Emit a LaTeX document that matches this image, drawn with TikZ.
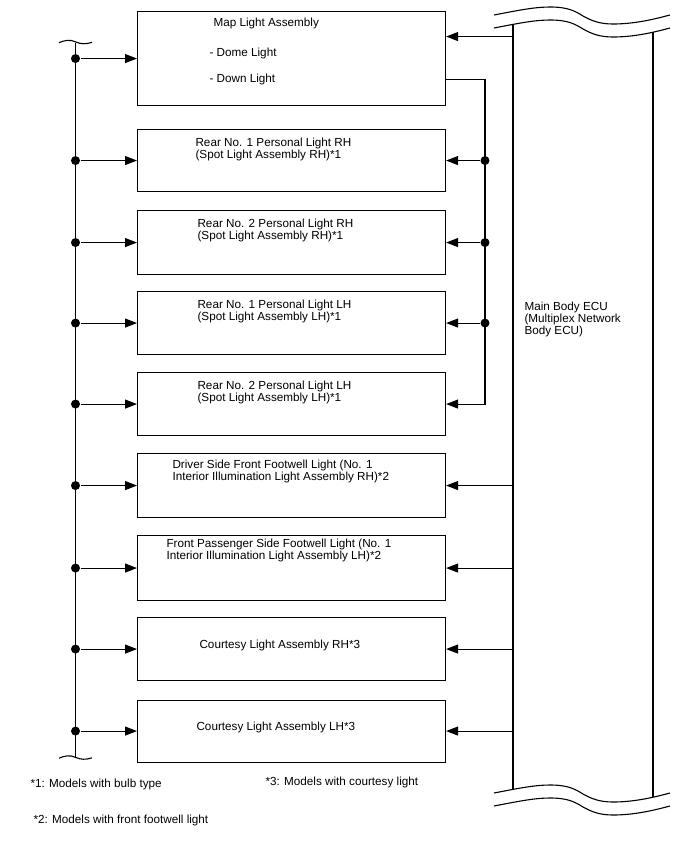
\documentclass[tikz,border=0pt]{standalone}
\usepackage{fontspec}
\setmainfont{Liberation Sans}
\usetikzlibrary{arrows.meta}
\newcommand\ecuwave[1]{\draw[shift={(0,#1)}] (494,15) .. controls (520,10) and (535,7) .. (550,7) .. controls (568,7) and (575,11) .. (583,16) .. controls (592,21) and (600,24) .. (613,24) .. controls (635,24) and (655,19) .. (670,15);}
\newcommand\bustilde[1]{\draw[shift={(0,#1)}] (59,0.7) .. controls (64,-1.5) and (70,-3) .. (76,0) .. controls (80,2) and (86,2.5) .. (92,0.3);}
\begin{document}
\begin{tikzpicture}[x=1pt,y=-1pt,line width=1.1pt,
  box/.style={draw, rectangle, minimum width=308pt, anchor=north west, inner sep=0pt},
  lbl/.style={anchor=base west, inner sep=0pt, font=\fontsize{11.7}{13}\selectfont},
  arr/.style={-{Triangle[length=12pt,width=9pt]}},
  dot/.style={circle, fill, inner sep=0pt, minimum size=9pt}]
\useasboundingbox (0,0) rectangle (688,852);
% boxes
\node[box, minimum height=94pt] (b1) at (137,11) {};
\node[box, minimum height=62pt] (b2) at (137,129) {};
\node[box, minimum height=64pt] (b3) at (137,210) {};
\node[box, minimum height=63pt] (b4) at (137,291) {};
\node[box, minimum height=63pt] (b5) at (137,372) {};
\node[box, minimum height=64pt] (b6) at (137,453) {};
\node[box, minimum height=65pt] (b7) at (137,535) {};
\node[box, minimum height=63pt] (b8) at (137,617) {};
\node[box, minimum height=62pt] (b9) at (137,699.5) {};
% texts
\node[lbl] (t1a) at (213,26.7) {Map Light Assembly};
\node[lbl] (t1b) at (209,56.7) {- Dome Light};
\node[lbl] (t1c) at (209,82.7) {- Down Light};
\node[lbl] (t2a) at (195,146) {Rear No. 1 Personal Light RH};
\node[lbl] (t2b) at (195,158) {(Spot Light Assembly RH)*1};
\node[lbl] (t3a) at (197,227) {Rear No. 2 Personal Light RH};
\node[lbl] (t3b) at (197,239) {(Spot Light Assembly RH)*1};
\node[lbl] (t4a) at (197,308) {Rear No. 1 Personal Light LH};
\node[lbl] (t4b) at (197,320) {(Spot Light Assembly LH)*1};
\node[lbl] (t5a) at (197,389) {Rear No. 2 Personal Light LH};
\node[lbl] (t5b) at (197,401) {(Spot Light Assembly LH)*1};
\node[lbl] (t6a) at (172,468.5) {Driver Side Front Footwell Light (No. 1};
\node[lbl] (t6b) at (172,480.5) {Interior Illumination Light Assembly RH)*2};
\node[lbl] (t7a) at (166,547) {Front Passenger Side Footwell Light (No. 1};
\node[lbl] (t7b) at (166,559) {Interior Illumination Light Assembly LH)*2};
\node[lbl] (t8) at (199,648) {Courtesy Light Assembly RH*3};
\node[lbl] (t9) at (196,730) {Courtesy Light Assembly LH*3};
\node[lbl] (e1) at (524,310) {Main Body ECU};
\node[lbl] (e2) at (524,322) {(Multiplex Network};
\node[lbl] (e3) at (524,334) {Body ECU)};
\node[lbl] (f1) at (30,787) {*1: Models with bulb type};
\node[lbl] (f2) at (33,823) {*2: Models with front footwell light};
\node[lbl] (f3) at (265,785) {*3: Models with courtesy light};
% ECU outline
\node[inner sep=0pt, minimum width=140pt, minimum height=764pt, anchor=north west] (ecu) at (513,25) {};
\ecuwave{0}
\ecuwave{13}
\ecuwave{778}
\ecuwave{791}
\draw (513,24.4) -- (513,789.1);
\draw (653,32.2) -- (653,797.2);
% left bus
\coordinate (bus) at (75.5,0);
\coordinate (busT) at (75.5,42.5);
\coordinate (busB) at (75.5,757);
\bustilde{42}
\bustilde{757.5}
\draw (busT) -- (busB);
\foreach \i in {1,...,9}{
  \node[dot] (L\i) at (bus |- b\i.west) {};
  \draw[arr] (L\i) -- (b\i);
}
% right bus
\coordinate (rbus) at (485,0);
\coordinate (b1in) at ([yshift=22pt]b1.east);
\coordinate (b1out) at ([yshift=-21pt]b1.east);
\draw[arr] (ecu.west |- b1in) -- (b1in);
\draw[arr] (b1out) -| (rbus |- b5.east) -- (b5.east);
\foreach \i in {2,3,4}{
  \node[dot] (R\i) at (rbus |- b\i.east) {};
  \draw[arr] (R\i) -- (b\i);
}
\foreach \i in {6,7,8,9}{
  \draw[arr] (ecu.west |- b\i.east) -- (b\i.east);
}
\end{tikzpicture}
\end{document}
